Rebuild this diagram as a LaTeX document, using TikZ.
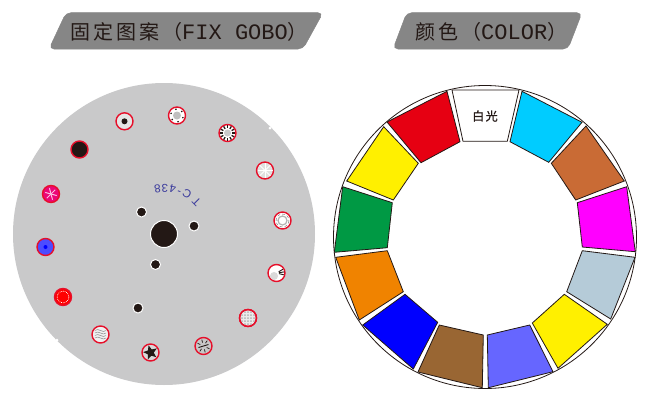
\documentclass[tikz,border=0pt]{standalone}
\usepackage{fontspec}
\usetikzlibrary{shapes.geometric}
\newfontfamily\cjk[LetterSpace=15]{Noto Sans CJK SC}
\newfontfamily\cjkb[FakeBold=1.2,LetterSpace=12]{Noto Sans CJK SC}
\newfontfamily\titlelatin{Liberation Mono}
\setsansfont{Liberation Sans}
\definecolor{inkdark}{HTML}{231815}
\definecolor{inkblue}{HTML}{3A3A9C}
\definecolor{bannergray}{HTML}{868686}
\definecolor{discgray}{HTML}{C9C9CA}
\definecolor{ringred}{HTML}{E60F2A}
\tikzset{
	banner/.style={fill=bannergray, draw=bannergray, line width=0.5pt, rounded corners=5pt},
	bannertext/.style={text=inkdark, font=\cjk\fontsize{20}{22}\selectfont, inner sep=0pt},
	hole/.style={circle, fill=inkdark, draw=white, line width=1pt, inner sep=0pt},
	gobo/.style={circle, draw=ringred, line width=1.4pt, minimum size=17pt, inner sep=0pt, fill=#1},
	gobo/.default=white,
	slice/.style={draw=inkdark, line width=0.8pt, line join=miter},
}
\newcommand{\titlefont}{\titlelatin\fontsize{22}{22}\selectfont}
\begin{document}
\begin{tikzpicture}[x=1pt,y=-1pt]
	\useasboundingbox (0,0) rectangle (646,397);
	
	% titles
	\fill[banner] (49,49) -- (66,12.7) -- (323,12.7) -- (303,49) -- cycle;
	\node[bannertext, anchor=west] (gobotitle) at (70,32) {固定图案（{\titlefont FIX GOBO}）};
	\fill[banner] (393,49) -- (406.7,12.7) -- (582,12.7) -- (568,49) -- cycle;
	\node[bannertext, anchor=west] (colortitle) at (415,32) {颜色（{\titlefont COLOR}）};
	
	% gobo wheel
	\def \cx {164}
	\def \cy {234}
	\node[circle, fill=discgray, minimum size=302pt, inner sep=0pt] (disc) at (\cx,\cy) {};
	\node[circle, fill=white, minimum size=3pt, inner sep=0pt] (speckA) at (270,128) {};
	\node[circle, fill=white, minimum size=3pt, inner sep=0pt] (speckB) at (57,340) {};
	\node[hole, minimum size=27pt] (centerhole) at (\cx,\cy) {};
	\foreach \x/\y [count=\s] in {141.5/212,194/226,155.5/264.5,138/308}
	{
		\node[hole, minimum size=10pt] (hole\s) at (\x,\y) {};
	}
	
	% the lettering runs round the centre, upside down
	\foreach \c/\a [count=\s] in {8/98,3/89,4/79,-/70,C/60,T/45}
	{
		\node[text=inkblue, font=\sffamily\fontsize{11.5}{12}\selectfont, inner sep=0pt,
		rotate=\a+90] (mark\s) at ({\cx+46*cos(\a)},{\cy-46*sin(\a)}) {\c};
	}
	
	% gobos, clockwise from the top left
	\node[gobo=black!10] (gA) at (124.5,121.3) {};
	\fill[inkdark] (gA.center) circle (3);
	\node[gobo] (gB) at (177,115.5) {};
	\fill[black!25] (gB.center) circle (4);
	\foreach \a in {20,80,...,320}
	{
		\fill[inkdark] (gB.center)++(\a:6.3) circle (0.9);
	}
	\node[gobo=white] (gC) at (227.5,133) {};
	\foreach \a in {0,30,...,330}
	{
		\draw[inkdark, line width=1.3pt] (gC.center)++(\a:4.8) -- ++(\a:2.8);
	}
	\fill[discgray] (gC.center) circle (3.5);
	\node[gobo=black!12] (gD) at (265,170.5) {};
	\foreach \a in {0,45,...,315}
	{
		\draw[white, line width=0.8pt] (gD.center) -- ++(\a:7.5);
	}
	\node[gobo] (gE) at (282.5,220.5) {};
	\draw[black!30, line width=1.2pt] (gE.center) circle (4.5);
	\draw[black!60, line width=0.4pt, densely dashed] (gE.center) circle (6.5);
	\node[gobo] (gF) at (276.5,273) {};
	\fill[black!15] (gF.center)++(-2.5,3) circle (4);
	\foreach \a/\b in {-30/5,-8/5.5,14/5}
	{
		\draw[inkdark, line width=0.9pt] (gF.center)++(\a:2.5) -- ++(\a:\b);
	}
	\node[gobo=black!8] (gG) at (248,318) {};
	\foreach \x in {-6,-3,...,6}
	{
		\foreach \y in {-6,-3,...,6}
		{
			\fill[black!30] (248+\x,318+\y) circle (1);
		}
	}
	\node[circle, draw=ringred, line width=1.4pt, minimum size=17pt, inner sep=0pt] (gGring) at (gG) {};
	\node[gobo=black!22] (gH) at (203.5,346) {};
	\draw[inkdark, line width=0.9pt] (gH.center)++(-5,1.5) -- ++(10,-3);
	\foreach \a in {25,75,125,205,255,305}
	{
		\draw[inkdark, line width=0.7pt] (gH.center)++(\a:3.5) -- ++(\a:3);
	}
	\node[gobo=black!15] (gI) at (150.5,352.5) {};
	\node[star, star points=5, star point ratio=2.3, fill=inkdark, minimum size=15pt, inner sep=0pt, rotate=15] (gIstar) at (gI) {};
	\node[gobo=black!6] (gJ) at (100.5,334.5) {};
	\foreach \d in {-4,-1.5,1,3.5}
	{
		\draw[black!45, line width=0.5pt] (95,334.5+\d) .. controls (98,331+\d) and (103,338+\d) .. (106,334.5+\d);
	}
	\node[gobo=red, draw=ringred] (gK) at (63,297) {};
	\draw[white, line width=0.7pt, densely dotted] (gK.center) circle (5.8);
	\node[gobo=blue!70] (gL) at (45.5,247) {};
	\fill[blue] (gL.center) circle (2);
	\node[gobo=magenta!80!red] (gM) at (51,194) {};
	\foreach \a in {0,60,...,300}
	{
		\draw[white!75!magenta, line width=1pt] (gM.center) -- ++(\a+15:6);
	}
	\node[gobo=inkdark] (gN) at (79.5,149.5) {};
	
	% colour wheel
	\node[circle, draw=inkdark, line width=0.8pt, minimum size=303pt, inner sep=0pt] (rim) at (485,237) {};
	\filldraw[slice, fill=white] (452,90) -- (519,90) -- (507.3,141.3) -- (463,141.3) -- cycle;
	\foreach \col/\ax/\ay/\bx/\by/\ex/\ey/\dx/\dy in {
		E60012/387/122/447/91.3/460/141.7/421/162.7,
		00CCFF/522/91.3/582/122.3/548.7/162.3/510/141.7,
		C96B35/586/126/624.3/181/575.7/200/551.3/163.3,
		FF00FF/626.7/186.7/635.3/251.7/582.3/247/577.3/202.7,
		B5CBD8/635/257.3/610.7/319/566.7/291.7/582.3/250.7,
		FFF000/607.3/324.3/558/368.3/532.3/323/564.3/294.3,
		6666FF/553/371.7/488.3/387.7/487.3/335/529.7/325,
		996633/482.3/387.7/418/372/439.3/325/483.3/335,
		0000FF/413.3/369/362.7/325/405/294.3/437.7/322.3,
		F08300/359.3/320/335.7/257.3/387.3/250.7/403.3/291.7,
		009944/334.3/252.3/342.7/186.7/392.3/202.7/387.3/247.7,
		FFF000/346.7/181/383.7/126.7/418.3/163.3/393.3/200}
	{
		\definecolor{slicecolor}{HTML}{\col}
		\filldraw[slice, fill=slicecolor] (\ax,\ay) -- (\bx,\by) -- (\ex,\ey) -- (\dx,\dy) -- cycle;
	}
	\node[font=\cjkb\fontsize{12}{12}\selectfont, text=inkdark, inner sep=0pt] (whitelabel) at (485,116) {白光};
\end{tikzpicture}
\end{document}
